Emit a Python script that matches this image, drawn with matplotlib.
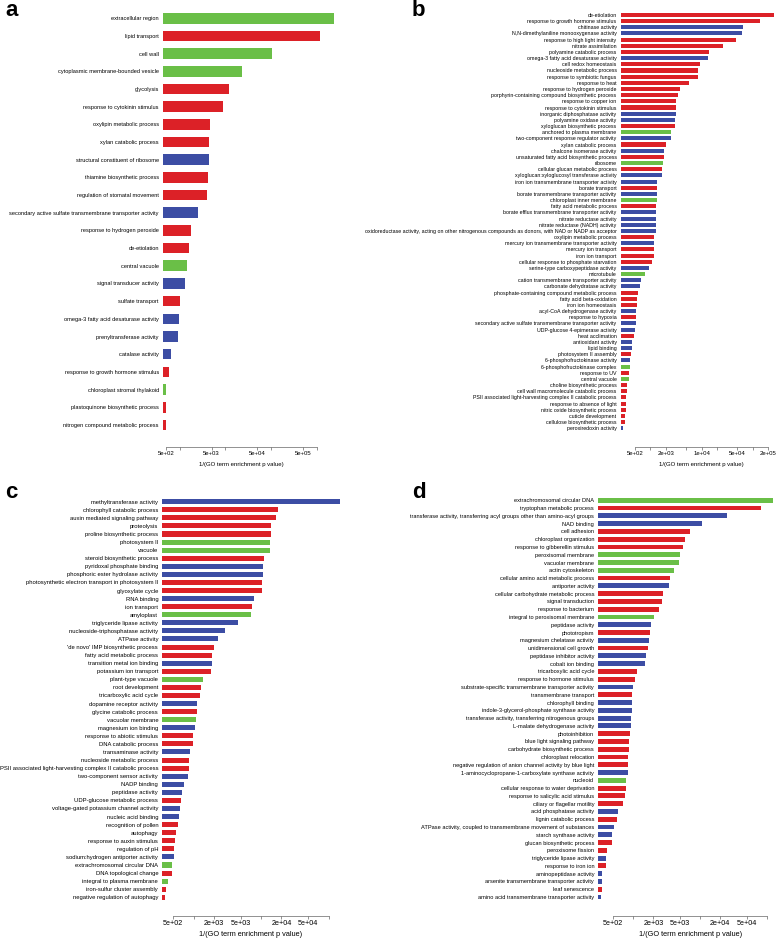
import numpy as np
import matplotlib
matplotlib.use("Agg")
import matplotlib.pyplot as plt
from matplotlib.ticker import NullLocator

plt.rcParams['font.family'] = ['Liberation Sans', 'DejaVu Sans']

COLORS = {'BP': '#dc2127', 'MF': '#3c4da4', 'CC': '#6abf47'}

# panel a
a_terms = ["extracellular region", "lipid transport", "cell wall",
           "cytoplasmic membrane-bounded vesicle", "glycolysis",
           "response to cytokinin stimulus", "oxylipin metabolic process",
           "xylan catabolic process", "structural constituent of ribosome",
           "thiamine biosynthetic process", "regulation of stomatal movement",
           "secondary active sulfate transmembrane transporter activity",
           "response to hydrogen peroxide", "de-etiolation", "central vacuole",
           "signal transducer activity", "sulfate transport",
           "omega-3 fatty acid desaturase activity", "prenyltransferase activity",
           "catalase activity", "response to growth hormone stimulus",
           "chloroplast stromal thylakoid", "plastoquinone biosynthetic process",
           "nitrogen compound metabolic process"]
a_values = [2.4e6, 1.17e6, 1.05e5, 2.3e4, 1.2e4, 8.8e3, 4.6e3, 4.4e3, 4.4e3,
            4.15e3, 3.95e3, 2.5e3, 1.76e3, 1.6e3, 1.44e3, 1.3e3, 1.0e3, 960,
            915, 640, 580, 505, 505, 500]
a_cats = ['CC', 'BP', 'CC', 'CC', 'BP', 'BP', 'BP', 'BP', 'MF', 'BP', 'BP', 'MF',
          'BP', 'BP', 'CC', 'MF', 'BP', 'MF', 'MF', 'MF', 'BP', 'CC', 'BP', 'BP']

# panel b
b_terms = ["de-etiolation", "response to growth hormone stimulus", "chitinase activity",
           "N,N-dimethylaniline monooxygenase activity", "response to high light intensity",
           "nitrate assimilation", "polyamine catabolic process",
           "omega-3 fatty acid desaturase activity", "cell redox homeostasis",
           "nucleoside metabolic process", "response to symbiotic fungus",
           "response to heat", "response to hydrogen peroxide",
           "porphyrin-containing compound biosynthetic process",
           "response to copper ion", "response to cytokinin stimulus",
           "inorganic diphosphatase activity", "polyamine oxidase activity",
           "xyloglucan biosynthetic process", "anchored to plasma membrane",
           "two-component response regulator activity", "xylan catabolic process",
           "chalcone isomerase activity", "unsaturated fatty acid biosynthetic process",
           "ribosome", "cellular glucan metabolic process",
           "xyloglucan:xyloglucosyl transferase activity",
           "iron ion transmembrane transporter activity", "borate transport",
           "borate transmembrane transporter activity", "chloroplast inner membrane",
           "fatty acid metabolic process", "borate efflux transmembrane transporter activity",
           "nitrate reductase activity", "nitrate reductase (NADH) activity",
           "oxidoreductase activity, acting on other nitrogenous compounds as donors, with NAD or NADP as acceptor",
           "oxylipin metabolic process", "mercury ion transmembrane transporter activity",
           "mercury ion transport", "iron ion transport",
           "cellular response to phosphate starvation",
           "serine-type carboxypeptidase activity", "microtubule",
           "cation transmembrane transporter activity", "carbonate dehydratase activity",
           "phosphate-containing compound metabolic process", "fatty acid beta-oxidation",
           "iron ion homeostasis", "acyl-CoA dehydrogenase activity", "response to hypoxia",
           "secondary active sulfate transmembrane transporter activity",
           "UDP-glucose 4-epimerase activity", "heat acclimation", "antioxidant activity",
           "lipid binding", "photosystem II assembly", "6-phosphofructokinase activity",
           "6-phosphofructokinase complex", "response to UV", "central vacuole",
           "choline biosynthetic process", "cell wall macromolecule catabolic process",
           "PSII associated light-harvesting complex II catabolic process",
           "response to absence of light", "nitric oxide biosynthetic process",
           "cuticle development", "cellulose biosynthetic process", "peroxiredoxin activity"]
b_values = [2.6e5, 1.38e5, 6.35e4, 6.2e4, 4.63e4, 2.6e4, 1.39e4, 1.35e4, 9.3e3,
            8.6e3, 8.4e3, 5.75e3, 3.78e3, 3.41e3, 3.2e3, 3.15e3, 3.12e3, 3.02e3,
            3.02e3, 2.52e3, 2.49e3, 2.04e3, 1.87e3, 1.82e3, 1.79e3, 1.68e3, 1.68e3,
            1.36e3, 1.33e3, 1.33e3, 1.33e3, 1.30e3, 1.27e3, 1.27e3, 1.27e3, 1.27e3,
            1.19e3, 1.19e3, 1.19e3, 1.17e3, 1.06e3, 951, 784, 655, 635, 573, 554,
            540, 523, 516, 516, 507, 478, 431, 431, 412, 394, 394, 387, 382, 344,
            344, 338, 338, 338, 323, 319, 292]
b_cats = ['BP', 'BP', 'MF', 'MF', 'BP', 'BP', 'BP', 'MF', 'BP', 'BP', 'BP', 'BP',
          'BP', 'BP', 'BP', 'BP', 'MF', 'MF', 'BP', 'CC', 'MF', 'BP', 'MF', 'BP',
          'CC', 'BP', 'MF', 'MF', 'BP', 'MF', 'CC', 'BP', 'MF', 'MF', 'MF', 'MF',
          'BP', 'MF', 'BP', 'BP', 'BP', 'MF', 'CC', 'MF', 'MF', 'BP', 'BP', 'BP',
          'MF', 'BP', 'MF', 'MF', 'BP', 'MF', 'MF', 'BP', 'MF', 'CC', 'BP', 'CC',
          'BP', 'BP', 'BP', 'BP', 'BP', 'BP', 'BP', 'MF']

# panel c
c_terms = ["methyltransferase activity", "chlorophyll catabolic process",
           "auxin mediated signaling pathway", "proteolysis", "proline biosynthetic process",
           "photosystem II", "vacuole", "steroid biosynthetic process",
           "pyridoxal phosphate binding", "phosphoric ester hydrolase activity",
           "photosynthetic electron transport in photosystem II", "glyoxylate cycle",
           "RNA binding", "ion transport", "amyloplast", "triglyceride lipase activity",
           "nucleoside-triphosphatase activity", "ATPase activity",
           "'de novo' IMP biosynthetic process", "fatty acid metabolic process",
           "transition metal ion binding", "potassium ion transport", "plant-type vacuole",
           "root development", "tricarboxylic acid cycle", "dopamine receptor activity",
           "glycine catabolic process", "vacuolar membrane", "magnesium ion binding",
           "response to abiotic stimulus", "DNA catabolic process", "transaminase activity",
           "nucleoside metabolic process",
           "PSII associated light-harvesting complex II catabolic process",
           "two-component sensor activity", "NADP binding", "peptidase activity",
           "UDP-glucose metabolic process", "voltage-gated potassium channel activity",
           "nucleic acid binding", "recognition of pollen", "autophagy",
           "response to auxin stimulus", "regulation of pH",
           "sodium:hydrogen antiporter activity", "extrachromosomal circular DNA",
           "DNA topological change", "integral to plasma membrane",
           "iron-sulfur cluster assembly", "negative regulation of autophagy"]
c_values = [1.48e5, 1.8e4, 1.66e4, 1.39e4, 1.39e4, 1.35e4, 1.35e4, 1.10e4, 1.08e4,
            1.07e4, 1.03e4, 1.03e4, 7.9e3, 7.4e3, 7.0e3, 4.5e3, 2.95e3, 2.3e3, 2.0e3,
            1.87e3, 1.85e3, 1.79e3, 1.38e3, 1.27e3, 1.23e3, 1.13e3, 1.11e3, 1.10e3,
            1.04e3, 989, 968, 893, 863, 845, 816, 721, 673, 650, 635, 601, 581, 543,
            530, 507, 507, 483, 473, 422, 386, 380]
c_cats = ['MF', 'BP', 'BP', 'BP', 'BP', 'CC', 'CC', 'BP', 'MF', 'MF', 'BP', 'BP',
          'MF', 'BP', 'CC', 'MF', 'MF', 'MF', 'BP', 'BP', 'MF', 'BP', 'CC', 'BP',
          'BP', 'MF', 'BP', 'CC', 'MF', 'BP', 'BP', 'MF', 'BP', 'BP', 'MF', 'MF',
          'MF', 'BP', 'MF', 'MF', 'BP', 'BP', 'BP', 'BP', 'MF', 'CC', 'BP', 'CC',
          'BP', 'BP']

# panel d
d_terms = ["extrachromosomal circular DNA", "tryptophan metabolic process",
           "transferase activity, transferring acyl groups other than amino-acyl groups",
           "NAD binding", "cell adhesion", "chloroplast organization",
           "response to gibberellin stimulus", "peroxisomal membrane", "vacuolar membrane",
           "actin cytoskeleton", "cellular amino acid metabolic process",
           "antiporter activity", "cellular carbohydrate metabolic process",
           "signal transduction", "response to bacterium",
           "integral to peroxisomal membrane", "peptidase activity", "phototropism",
           "magnesium chelatase activity", "unidimensional cell growth",
           "peptidase inhibitor activity", "cobalt ion binding", "tricarboxylic acid cycle",
           "response to hormone stimulus",
           "substrate-specific transmembrane transporter activity",
           "transmembrane transport", "chlorophyll binding",
           "indole-3-glycerol-phosphate synthase activity",
           "transferase activity, transferring nitrogenous groups",
           "L-malate dehydrogenase activity", "photoinhibition",
           "blue light signaling pathway", "carbohydrate biosynthetic process",
           "chloroplast relocation",
           "negative regulation of anion channel activity by blue light",
           "1-aminocyclopropane-1-carboxylate synthase activity", "nucleoid",
           "cellular response to water deprivation", "response to salicylic acid stimulus",
           "ciliary or flagellar motility", "acid phosphatase activity",
           "lignin catabolic process",
           "ATPase activity, coupled to transmembrane movement of substances",
           "starch synthase activity", "glucan biosynthetic process", "peroxisome fission",
           "triglyceride lipase activity", "response to iron ion",
           "aminopeptidase activity", "arsenite transmembrane transporter activity",
           "leaf senescence", "amino acid transmembrane transporter activity"]
d_values = [1.25e5, 8.1e4, 2.5e4, 1.07e4, 7.1e3, 5.87e3, 5.6e3, 5.03e3, 4.77e3,
            4.1e3, 3.54e3, 3.42e3, 2.78e3, 2.66e3, 2.39e3, 2.06e3, 1.82e3, 1.77e3,
            1.73e3, 1.67e3, 1.56e3, 1.49e3, 1.15e3, 1.06e3, 975, 964, 953, 942, 931,
            921, 890, 860, 850, 840, 840, 830, 783, 783, 740, 698, 594, 574, 506, 483,
            483, 403, 389, 384, 342, 334, 334, 330]
d_cats = ['CC', 'BP', 'MF', 'MF', 'BP', 'BP', 'BP', 'CC', 'CC', 'CC', 'BP', 'MF',
          'BP', 'BP', 'BP', 'CC', 'MF', 'BP', 'MF', 'BP', 'MF', 'MF', 'BP', 'BP',
          'MF', 'BP', 'MF', 'MF', 'MF', 'MF', 'BP', 'BP', 'BP', 'BP', 'BP', 'MF',
          'CC', 'BP', 'BP', 'BP', 'MF', 'BP', 'MF', 'MF', 'BP', 'BP', 'MF', 'BP',
          'MF', 'MF', 'BP', 'MF']

W, H = 778, 939
fig = plt.figure(figsize=(W / 100, H / 100), dpi=100)


def panel(box, terms, values, cats, xlim, ylim, ticks, labels, bar_h,
          lab_fs, tick_fs, xl_fs, letter, letter_xy, xl_y):
    left, top, right, bottom = box
    ax = fig.add_axes([left / W, 1 - bottom / H, (right - left) / W, (bottom - top) / H])
    ax.set_xscale('log')
    base = xlim[0]
    y = np.arange(len(terms))
    ax.barh(y, np.array(values) - base, left=base, height=bar_h,
            color=[COLORS[c] for c in cats], edgecolor='none')
    ax.set_xlim(*xlim)
    ax.set_ylim(*ylim)
    ax.set_yticks(y)
    ax.set_yticklabels(terms, fontsize=lab_fs)
    ax.tick_params(axis='y', length=0, pad=3)
    ax.set_xticks(ticks)
    ax.set_xticklabels(labels, fontsize=tick_fs)
    ax.xaxis.set_minor_locator(NullLocator())
    ax.tick_params(axis='x', length=2, width=0.5, color='#666666', pad=1)
    for s in ['top', 'right', 'left']:
        ax.spines[s].set_visible(False)
    ax.spines['bottom'].set_bounds(ticks[0], ticks[-1])
    ax.spines['bottom'].set_linewidth(0.5)
    ax.spines['bottom'].set_color('#666666')
    ax.patch.set_visible(False)
    # axis title centred under the tick range
    lo, hi = np.log10(ticks[0]), np.log10(ticks[-1])
    xa, xb = np.log10(xlim[0]), np.log10(xlim[1])
    xc = left + (right - left) * ((lo + hi) / 2 - xa) / (xb - xa)
    fig.text(xc / W, 1 - xl_y / H, "1/(GO term enrichment p value)",
             fontsize=xl_fs, ha='center', va='center')
    fig.text(letter_xy[0] / W, 1 - letter_xy[1] / H, letter, fontsize=16,
             fontweight='bold', ha='left', va='baseline')
    return ax


panel((163, 5, 340, 447), a_terms, a_values, a_cats, (431, 3.2e6), (24.25, -0.75),
      [5e2, 1e3, 5e3, 1e4, 5e4, 1e5, 5e5, 1e6],
      ['5e+02', '', '5e+03', '', '5e+04', '', '5e+05', ''],
      0.6, 4.1, 4.3, 4.3, 'a', (5, 16), 464)

panel((620.7, 5, 778, 446.7), b_terms, b_values, b_cats, (263, 3.1e5), (70.0, -1.62),
      [5e2, 1e3, 2e3, 5e3, 1e4, 2e4, 5e4, 1e5, 2e5],
      ['5e+02', '', '2e+03', '', '1e+04', '', '5e+04', '', '2e+05'],
      0.65, 3.8, 4.3, 4.3, 'b', (412, 16), 464)

panel((162.3, 490, 345, 915.7), c_terms, c_values, c_cats, (344, 1.75e5), (51.28, -1.45),
      [5e2, 1e3, 2e3, 5e3, 1e4, 2e4, 5e4, 1e5],
      ['5e+02', '', '2e+03', '5e+03', '', '2e+04', '5e+04', ''],
      0.62, 4.2, 5.2, 5.3, 'c', (5, 498), 934)

panel((598.3, 490, 778, 915.7), d_terms, d_values, d_cats, (298, 1.47e5), (53.4, -1.32),
      [5e2, 1e3, 2e3, 5e3, 1e4, 2e4, 5e4, 1e5],
      ['5e+02', '', '2e+03', '5e+03', '', '2e+04', '5e+04', ''],
      0.62, 4.05, 5.2, 5.3, 'd', (412, 498), 934)

fig.savefig('out.png', dpi=100)
